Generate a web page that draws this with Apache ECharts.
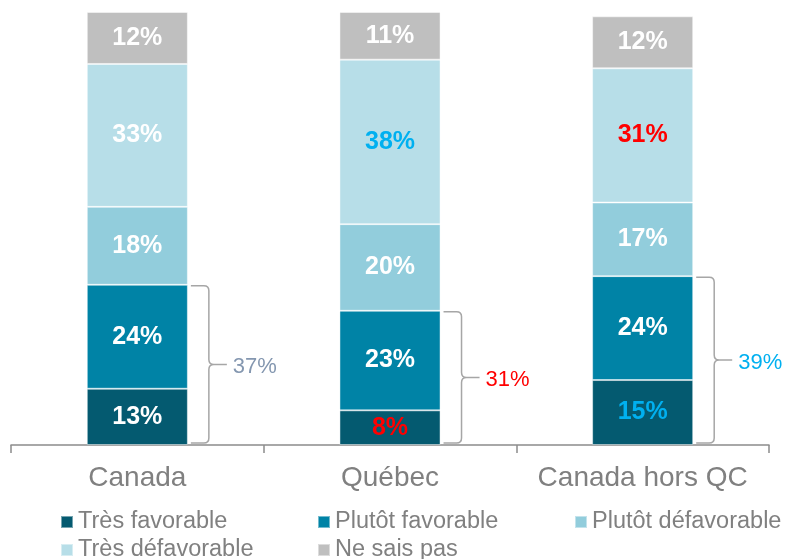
<!DOCTYPE html>
<html>
<head>
<meta charset="utf-8">
<script src="https://cdn.jsdelivr.net/npm/echarts@6/dist/echarts.min.js"></script>
<style>
  html, body { margin: 0; padding: 0; background: #fff; }
  #chart { width: 790px; height: 559px; }
</style>
</head>
<body>
<div id="chart"></div>
<script>
  // catégories et valeurs (%)
  var categories = ['Canada', 'Québec', 'Canada hors QC'];
  var tresFavorable = [13, 8, 15];
  var plutotFavorable = [24, 23, 24];
  var plutotDefavorable = [18, 20, 17];
  var tresDefavorable = [33, 38, 31];
  var neSaisPas = [12, 11, 12];
  // total favorable (accolade)
  var totalFavorable = [37, 31, 39];

  var FONT = '"Liberation Sans", Arial, sans-serif';
  var colors = ['#045A70', '#0083A6', '#92CDDC', '#B7DEE8', '#BFBFBF'];
  var names = ['Très favorable', 'Plutôt favorable', 'Plutôt défavorable', 'Très défavorable', 'Ne sais pas'];
  var values = [tresFavorable, plutotFavorable, plutotDefavorable, tresDefavorable, neSaisPas];
  // couleurs de libellé mises en évidence [série-catégorie]
  var hiColors = {
    '0-1': '#FF0000', '0-2': '#00B0F0',
    '3-1': '#00B0F0', '3-2': '#FF0000'
  };
  var bracketColors = ['#8497B0', '#FF0000', '#00B0F0'];
  // position des entrées de légende
  var legendPos = [[55, 505], [312, 505], [569, 505], [55, 533], [312, 533]];

  var chart = echarts.init(document.getElementById('chart'));

  var series = values.map(function (arr, si) {
    return {
      name: names[si],
      type: 'bar',
      stack: 'total',
      barWidth: '40%',
      itemStyle: { color: colors[si], borderColor: 'rgba(255,255,255,0.45)', borderWidth: 1 },
      label: {
        show: true,
        position: 'inside',
        formatter: '{c}%',
        fontFamily: FONT,
        fontWeight: 'bold',
        fontSize: 25,
        color: '#fff'
      },
      data: arr.map(function (v, ci) {
        var c = hiColors[si + '-' + ci];
        return c ? { value: v, label: { color: c } } : v;
      })
    };
  });

  series.push({
    type: 'custom',
    name: 'accolade',
    silent: true,
    z: 5,
    renderItem: function (params, api) {
      var ci = api.value(0);
      var total = api.value(1);
      var base = api.coord([ci, 0]);
      var top = api.coord([ci, total]);
      var band = api.size([1, 0])[0];
      var x0 = base[0] + band * 0.2 + 3;
      var xv = x0 + 18;
      var xt = x0 + 36;
      var yTop = top[1] + 1;
      var yBot = base[1] - 2;
      var yMid = (yTop + yBot) / 2;
      var r = 5;
      var d = 'M' + x0 + ',' + yTop +
        ' L' + (xv - r) + ',' + yTop +
        ' Q' + xv + ',' + yTop + ' ' + xv + ',' + (yTop + r) +
        ' L' + xv + ',' + (yMid - r) +
        ' Q' + xv + ',' + yMid + ' ' + (xv + r) + ',' + yMid +
        ' L' + xt + ',' + yMid +
        ' M' + (xv + r) + ',' + yMid +
        ' Q' + xv + ',' + yMid + ' ' + xv + ',' + (yMid + r) +
        ' L' + xv + ',' + (yBot - r) +
        ' Q' + xv + ',' + yBot + ' ' + (xv - r) + ',' + yBot +
        ' L' + x0 + ',' + yBot;
      return {
        type: 'group',
        children: [
          {
            type: 'path',
            shape: { pathData: d },
            style: { fill: null, stroke: '#A6A6A6', lineWidth: 1.5 }
          },
          {
            type: 'text',
            style: {
              x: xt + 6,
              y: yMid + 3,
              text: total + '%',
              fill: bracketColors[ci],
              font: '22px ' + FONT,
              verticalAlign: 'middle',
              align: 'left'
            }
          }
        ]
      };
    },
    data: totalFavorable.map(function (v, i) { return [i, v]; })
  });

  var legends = names.map(function (n, i) {
    return {
      left: legendPos[i][0],
      top: legendPos[i][1],
      itemWidth: 12,
      itemHeight: 12,
      icon: 'rect',
      selectedMode: false,
      textStyle: { fontFamily: FONT, fontSize: 23.5, color: '#808080' },
      data: [n]
    };
  });

  var option = {
    animation: false,
    backgroundColor: '#fff',
    grid: { left: 11, right: 21, top: 12, bottom: 114, containLabel: false },
    legend: legends,
    xAxis: {
      type: 'category',
      data: categories,
      axisLine: { lineStyle: { color: '#8C8C8C', width: 1.5 } },
      axisTick: { show: true, length: 8, lineStyle: { color: '#8C8C8C', width: 1.5 } },
      axisLabel: { fontFamily: FONT, fontSize: 28, color: '#808080', margin: 19, interval: 0 }
    },
    yAxis: {
      type: 'value',
      min: 0,
      max: 100,
      show: false,
      splitLine: { show: false }
    },
    series: series
  };

  chart.setOption(option);
</script>
</body>
</html>
